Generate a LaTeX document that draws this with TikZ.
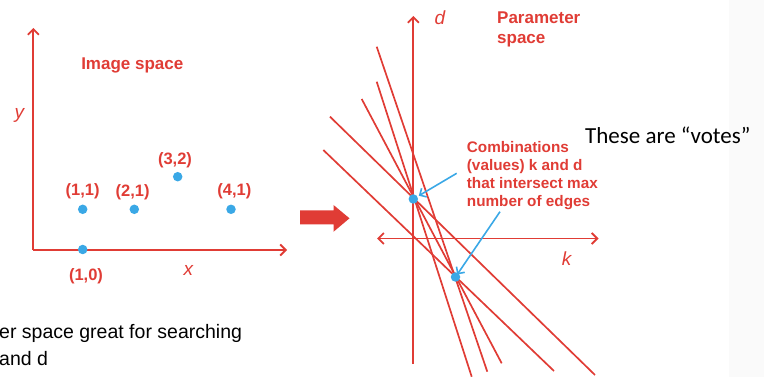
\documentclass[tikz,border=0pt]{standalone}
\usepackage{fontspec}
\setmainfont{Liberation Sans}
\newfontfamily\carlito{Carlito}
\usetikzlibrary{arrows.meta}
\definecolor{hred}{HTML}{E03C35}
\definecolor{hblue}{HTML}{3AA8E6}
\begin{document}
\begin{tikzpicture}[x=1pt,y=-1pt,
  axis/.style={draw=hred, line width=1.8pt},
  tipend/.style={-{Straight Barb[length=5.5pt,width=11pt]}},
  tipboth/.style={{Straight Barb[length=5.5pt,width=11pt]}-{Straight Barb[length=5.5pt,width=11pt]}},
  hline/.style={draw=hred, line width=1.7pt},
  dot/.style={circle, fill=hblue, inner sep=0pt, minimum size=9.5pt},
  rlab/.style={text=hred, font=\fontsize{16.5}{19}\selectfont\bfseries, inner sep=0pt},
  ttl/.style={text=hred, font=\fontsize{17}{20}\selectfont\bfseries, inner sep=0pt},
  cmb/.style={text=hred, font=\fontsize{15.3}{18}\selectfont\bfseries, inner sep=0pt, anchor=base west},
  axlab/.style={text=hred, font=\fontsize{19}{22}\selectfont\itshape, inner sep=0pt},
  btxt/.style={font=\fontsize{19.5}{24}\selectfont, inner sep=0pt, anchor=base west, text=black},
  ptr/.style={draw=hblue, line width=1.6pt, -{Straight Barb[length=5pt,width=10pt]}}]
\useasboundingbox (0,0) rectangle (764,377);
\fill[black!2] (729,0) rectangle (764,377);

% ---------- image space ----------
\coordinate (o1) at (33.3,250);
\coordinate (yt) at (33.3,28);
\coordinate (xt) at (287,250);
\draw[axis,tipend] (o1) -- (yt);
\draw[axis,tipend] (o1) -- (xt);
\node[ttl] (imgsp) at (132.3,65.7) {Image space};
\node[axlab] (ylab) at (19.3,115) {y};
\node[axlab] (xlab) at (188.3,270) {x};

\node[dot] (q11) at (82.7,209.3) {};
\node[dot] (q21) at (134.3,209.3) {};
\node[dot] (q32) at (177.7,176.7) {};
\node[dot] (q41) at (231,209.3) {};
\node[dot] (q10) at (82.7,249.5) {};
\node[rlab] (l11) at (82.7,191.7) {(1,1)};
\node[rlab] (l21) at (132.7,192.7) {(2,1)};
\node[rlab] (l32) at (175,160) {(3,2)};
\node[rlab] (l41) at (234.3,191) {(4,1)};
\node[rlab] (l10) at (86,276) {(1,0)};

% ---------- big arrow ----------
\fill[hred] (300,210.5) -- (333.5,210.5) -- (333.5,205) -- (349.5,218.3)
  -- (333.5,231.8) -- (333.5,224.5) -- (300,224.5) -- cycle;

% ---------- parameter space ----------
\coordinate (db) at (413.3,364);
\coordinate (dt) at (413.3,16);
\coordinate (kl) at (377,238.5);
\coordinate (kr) at (598.5,238.5);

\coordinate (t1) at (330,116.7);   \coordinate (b1) at (595,375);
\coordinate (t2) at (323.3,150);   \coordinate (b2) at (554,371);
\coordinate (t3) at (361.7,99);    \coordinate (b3) at (501.7,363.3);
\coordinate (t4) at (376.7,81.7);  \coordinate (b4) at (471.7,376.7);
\coordinate (t5) at (376.7,46.7);  \coordinate (b5) at (487.3,371.7);
\foreach \i in {1,...,5} \draw[hline] (t\i) -- (b\i);

\draw[axis,tipend] (db) -- (dt);
\draw[axis,tipboth] (kl) -- (kr);
\node[axlab] (dlab) at (440,17.3) {d};
\node[axlab] (klab) at (566.7,258.3) {k};
\node[ttl, anchor=base west] (par1) at (497,23.5) {Parameter};
\node[ttl, anchor=base west] (par2) at (497,43.5) {space};

\node[dot] (p1) at (413.3,199) {};
\node[dot] (p2) at (455.5,277) {};

\node[cmb] (c1) at (466.7,152.5) {Combinations};
\node[cmb] (c2) at (466.7,170.7) {(values) k and d};
\node[cmb] (c3) at (466.7,188.9) {that intersect max};
\node[cmb] (c4) at (466.7,206.5) {number of edges};

\coordinate (a1) at (456.7,173.3);
\coordinate (a2) at (500,211.7);
\draw[ptr, shorten >=1.5pt] (a1) -- (p1);
\draw[ptr, shorten >=-2pt] (a2) -- (p2);

% ---------- black texts ----------
\node[anchor=base west, inner sep=0pt, font=\carlito\fontsize{23}{28}\selectfont] (votes) at (585,143.5) {These are “votes”};
\node[btxt] (bt1) at (-1,338) {er space great for searching};
\node[btxt] (bt2) at (-1,365) {and d};
\end{tikzpicture}
\end{document}
